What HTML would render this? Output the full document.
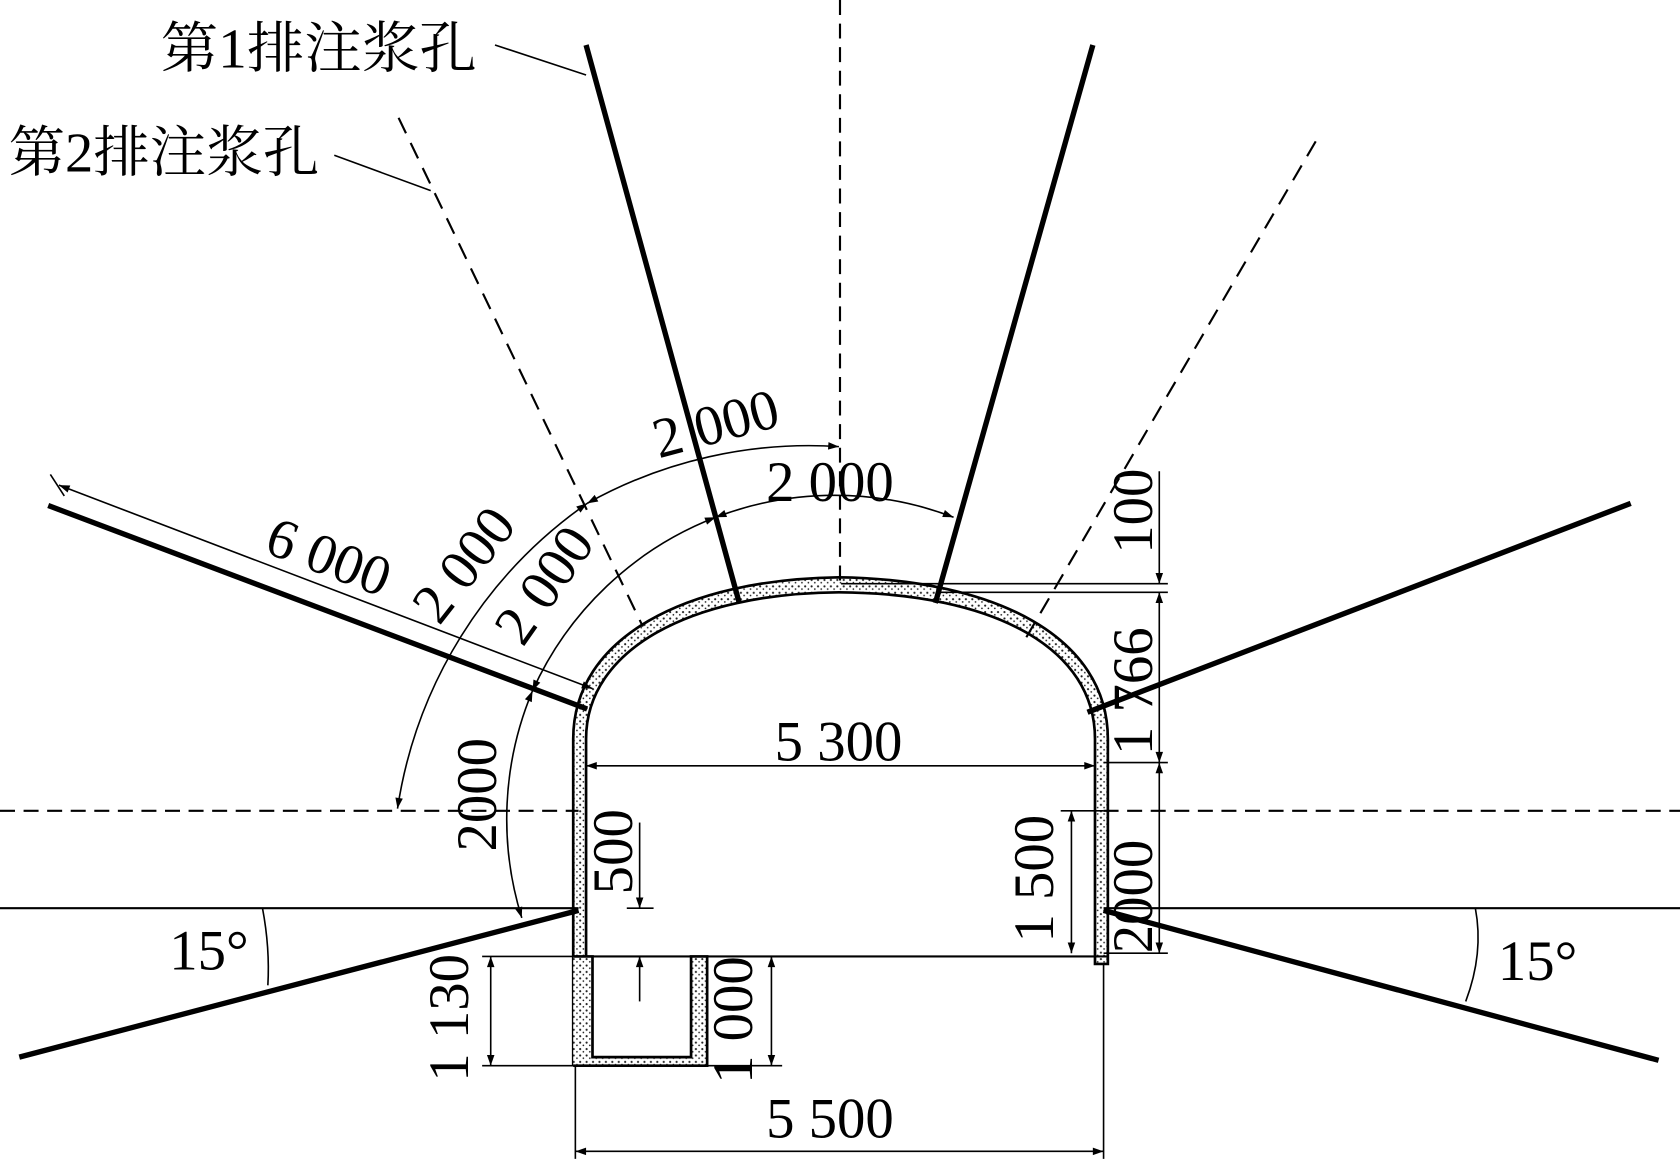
<!DOCTYPE html>
<html><head><meta charset="utf-8"><style>html,body{margin:0;padding:0;background:#fff}svg{display:block}</style></head>
<body>
<svg width="1680" height="1161" viewBox="0 0 1568 1084" preserveAspectRatio="none" xmlns="http://www.w3.org/2000/svg">
<defs>
<marker id="a" viewBox="0 0 10 10" refX="10" refY="5" markerWidth="14" markerHeight="10" markerUnits="userSpaceOnUse" orient="auto-start-reverse"><path d="M0,1.5 L10,5 L0,8.5z" fill="#000"/></marker>
<pattern id="dots" width="6" height="6" patternUnits="userSpaceOnUse"><rect width="6" height="6" fill="#fff"/><circle cx="1.5" cy="1.5" r="1" fill="#222"/><circle cx="4.5" cy="4" r="0.8" fill="#222"/></pattern>
</defs>
<g fill="none" stroke="#000">
<path d="M535,995 L535,690 C535,595 640,541 783,539 C930,541 1034,595 1034,690 L1034,900 L1022,900 L1022,690 C1022,606 930,554 783,553 C645,554 547,606 547,690 L547,893" fill="url(#dots)" stroke-width="2.5"/>
<path d="M535,995 L660,995 L660,893 L645,893 L645,987 L553,987 L553,893 L535,893" fill="url(#dots)" stroke-width="2.5"/>
<line x1="535" y1="893" x2="1033" y2="893" stroke-width="2"/>
<line x1="0" y1="848" x2="540" y2="848" stroke-width="2"/>
<line x1="1030" y1="848" x2="1568" y2="848" stroke-width="2"/>
<line x1="0" y1="757" x2="540" y2="757" stroke-width="2" stroke-dasharray="14,8"/>
<line x1="1030" y1="757" x2="1568" y2="757" stroke-width="2" stroke-dasharray="14,8"/>
<line x1="784" y1="0" x2="784" y2="548" stroke-width="2" stroke-dasharray="14,8"/>
<g stroke-width="5">
<line x1="547" y1="42" x2="690" y2="563"/>
<line x1="1020" y1="42" x2="873" y2="563"/>
<line x1="45" y1="472" x2="548" y2="662"/>
<line x1="1522" y1="470" x2="1015" y2="665"/>
<line x1="540" y1="850" x2="18" y2="987"/>
<line x1="1030" y1="850" x2="1548" y2="990"/>
</g>
<line x1="372" y1="110" x2="600" y2="585" stroke-width="2" stroke-dasharray="16,10"/>
<line x1="1228" y1="132" x2="955" y2="600" stroke-width="2" stroke-dasharray="16,10"/>
<line x1="462" y1="42" x2="547" y2="70" stroke-width="1.5"/>
<line x1="312" y1="145" x2="402" y2="178" stroke-width="1.5"/>
<line x1="47" y1="443" x2="60" y2="463" stroke-width="1.5"/>
<line x1="55" y1="453" x2="553" y2="643" stroke-width="1.5" marker-start="url(#a)" marker-end="url(#a)"/>
<path d="M371,755 A425,425 0 0 1 548,470" stroke-width="1.5" marker-start="url(#a)" marker-end="url(#a)"/>
<path d="M548,470 A425,425 0 0 1 783,417" stroke-width="1.5" marker-start="url(#a)" marker-end="url(#a)"/>
<path d="M487,857 A310,310 0 0 1 497,645" stroke-width="1.5" marker-start="url(#a)" marker-end="url(#a)"/>
<path d="M497,645 A310,310 0 0 1 668,483" stroke-width="1.5" marker-start="url(#a)" marker-end="url(#a)"/>
<path d="M668,483 A310,310 0 0 1 890,483" stroke-width="1.5" marker-start="url(#a)" marker-end="url(#a)"/>
<line x1="785" y1="545" x2="1090" y2="545" stroke-width="1.5"/>
<line x1="878" y1="553" x2="1090" y2="553" stroke-width="1.5"/>
<line x1="1030" y1="712" x2="1090" y2="712" stroke-width="1.5"/>
<line x1="1030" y1="890" x2="1090" y2="890" stroke-width="1.5"/>
<line x1="1082" y1="440" x2="1082" y2="545" stroke-width="1.5" marker-end="url(#a)"/>
<line x1="1082" y1="553" x2="1082" y2="712" stroke-width="1.5" marker-start="url(#a)" marker-end="url(#a)"/>
<line x1="1082" y1="712" x2="1082" y2="890" stroke-width="1.5" marker-start="url(#a)" marker-end="url(#a)"/>
<line x1="990" y1="757" x2="1030" y2="757" stroke-width="1.5"/>
<line x1="1000" y1="757" x2="1000" y2="890" stroke-width="1.5" marker-start="url(#a)" marker-end="url(#a)"/>
<line x1="547" y1="715" x2="1022" y2="715" stroke-width="1.5" marker-start="url(#a)" marker-end="url(#a)"/>
<line x1="537" y1="995" x2="537" y2="1082" stroke-width="1.5"/>
<line x1="1030" y1="900" x2="1030" y2="1082" stroke-width="1.5"/>
<line x1="537" y1="1075" x2="1030" y2="1075" stroke-width="1.5" marker-start="url(#a)" marker-end="url(#a)"/>
<line x1="597" y1="768" x2="597" y2="848" stroke-width="1.5" marker-end="url(#a)"/>
<line x1="597" y1="935" x2="597" y2="893" stroke-width="1.5" marker-end="url(#a)"/>
<line x1="585" y1="848" x2="610" y2="848" stroke-width="1.5"/>
<line x1="450" y1="893" x2="535" y2="893" stroke-width="1.5"/>
<line x1="450" y1="995" x2="540" y2="995" stroke-width="1.5"/>
<line x1="458" y1="893" x2="458" y2="995" stroke-width="1.5" marker-start="url(#a)" marker-end="url(#a)"/>
<line x1="660" y1="893" x2="730" y2="893" stroke-width="1.5"/>
<line x1="660" y1="995" x2="730" y2="995" stroke-width="1.5"/>
<line x1="720" y1="893" x2="720" y2="995" stroke-width="1.5" marker-start="url(#a)" marker-end="url(#a)"/>
<path d="M245,848 Q252,885 250,920" stroke-width="1.5"/>
<path d="M1377,848 Q1385,890 1368,935" stroke-width="1.5"/>
</g>
<g font-family="'Liberation Serif','Noto Serif CJK SC',serif" font-size="53" fill="#000">
<text x="150" y="63" font-size="52" textLength="295" lengthAdjust="spacingAndGlyphs">第1排注浆孔</text>
<text x="8" y="160" font-size="52" textLength="290" lengthAdjust="spacingAndGlyphs">第2排注浆孔</text>
<text transform="translate(245,515) rotate(21)">6 000</text>
<text transform="translate(615,428) rotate(-15)">2 000</text>
<text x="715" y="468">2 000</text>
<text transform="translate(410,585) rotate(-52)">2 000</text>
<text transform="translate(488,605) rotate(-55)">2 000</text>
<text transform="translate(463,795) rotate(-90)">2000</text>
<text x="723" y="710">5 300</text>
<text x="715" y="1062">5 500</text>
<text transform="translate(1075,517) rotate(-90)">100</text>
<text transform="translate(1075,705) rotate(-90)">1 766</text>
<text transform="translate(1075,890) rotate(-90)">2000</text>
<text transform="translate(983,880) rotate(-90)">1 500</text>
<text transform="translate(590,835) rotate(-90)">500</text>
<text transform="translate(437,1010) rotate(-90)">1 130</text>
<text transform="translate(702,1012) rotate(-90)">1 000</text>
<text x="158" y="905">15°</text>
<text x="1398" y="915">15°</text>
</g>
</svg>
</body></html>
